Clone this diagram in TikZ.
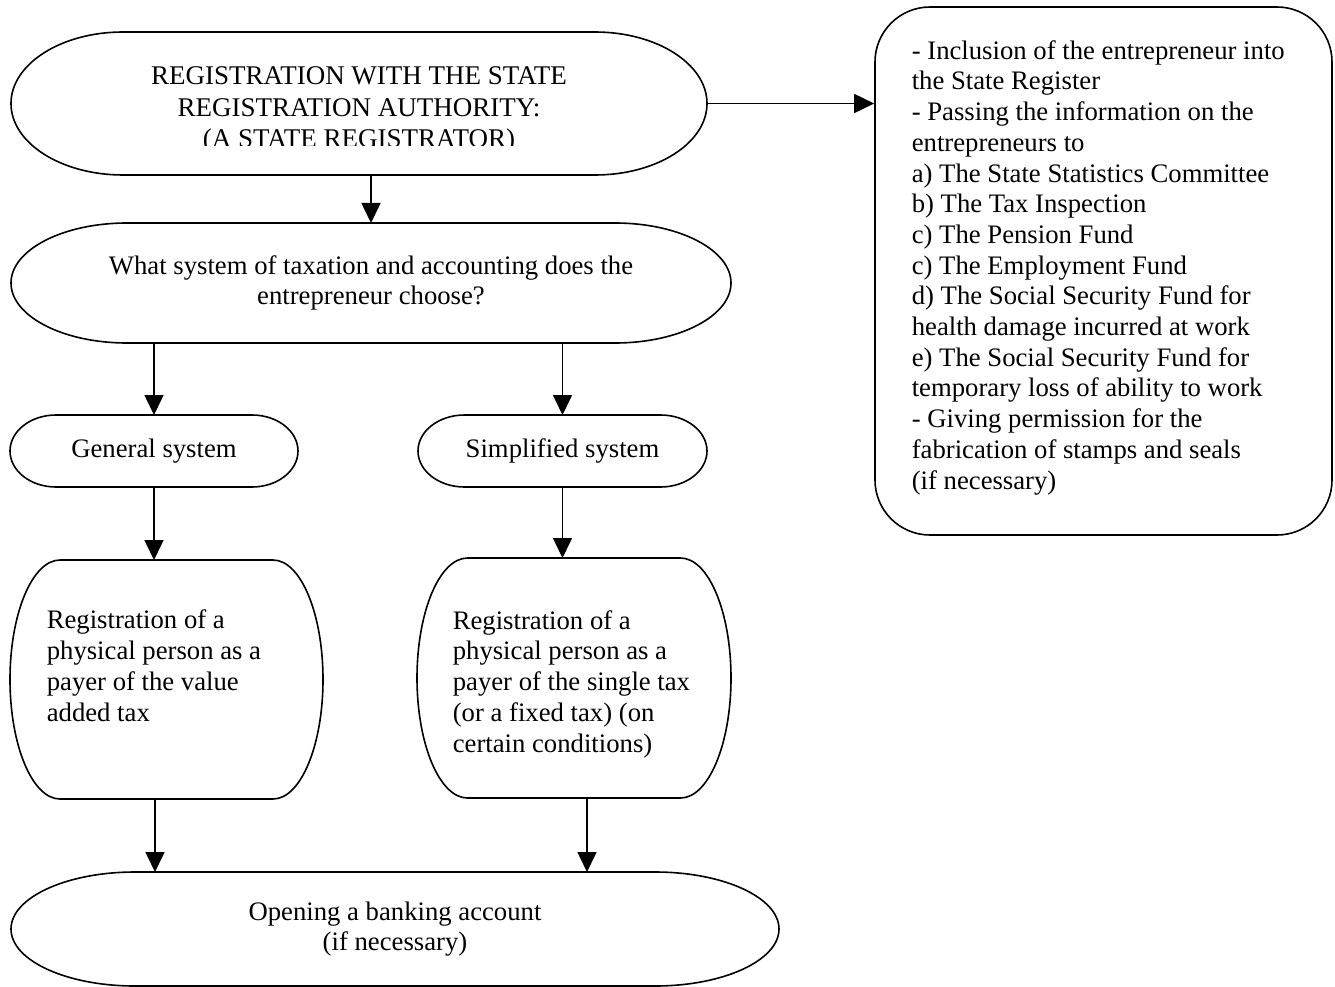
\documentclass[tikz,border=0pt]{standalone}
\usepackage{fontspec}
\setmainfont{Liberation Serif}
\usetikzlibrary{arrows.meta}

\newcommand\termshape[3]{% nodo, raggio x, raggio y
  \draw ([xshift=#2]#1.north west) -- ([xshift=-#2]#1.north east)
    arc[start angle=90, end angle=-90, x radius=#2, y radius=#3]
    -- ([xshift=#2]#1.south west)
    arc[start angle=270, end angle=90, x radius=#2, y radius=#3] -- cycle;}

\begin{document}
\begin{tikzpicture}[x=1pt, y=-1pt, line width=1.6pt,
  every node/.style={font=\fontsize{26.7pt}{30.7pt}\selectfont},
  shp/.style={rectangle, inner sep=0pt, outer sep=0pt, align=center},
  txt/.style={inner sep=0pt, align=left},
  arr/.style={-{Triangle[length=20pt,width=19pt]}}]

\useasboundingbox (0,0) rectangle (1335,987);

% Schema di registrazione dell'imprenditore
\node[shp, minimum width=696pt, minimum height=143pt] (reg)    at (359,103.5) {};
\node[shp, minimum width=720pt, minimum height=120pt] (choice) at (371,283)
  {What system of taxation and accounting does the\\entrepreneur choose?};
\node[shp, minimum width=288pt, minimum height=72pt]  (gen)    at (154,451)   {General system};
\node[shp, minimum width=289pt, minimum height=72pt]  (simp)   at (562.5,451) {Simplified system};
\node[shp, minimum width=313pt, minimum height=239pt] (vat)    at (166.5,679.5) {};
\node[shp, minimum width=314pt, minimum height=240pt] (single) at (574,678)   {};
\node[shp, minimum width=768pt, minimum height=114pt] (bank)   at (395,929)
  {Opening a banking account\\(if necessary)};
\node[draw, rounded corners=55pt, minimum width=457pt, minimum height=528pt] (info) at (1103.5,271) {};

\termshape{reg}{112pt}{71.5pt}
\termshape{choice}{116pt}{60pt}
\termshape{gen}{46pt}{36pt}
\termshape{simp}{46.5pt}{36pt}
\termshape{vat}{50pt}{119.5pt}
\termshape{single}{50.5pt}{120pt}
\termshape{bank}{124pt}{57pt}

\begin{scope}
  \clip (0,0) rectangle (1335,145.5);
  \node[txt, align=center, anchor=base, font=\fontsize{27pt}{31.5pt}\selectfont] (regtxt) at (359,148)
    {REGISTRATION WITH THE STATE\\REGISTRATION AUTHORITY:\\(A STATE REGISTRATOR)};
\end{scope}
\node[txt, anchor=base west] (vattxt) at (46,721)
  {Registration of a\\physical person as a\\payer of the value\\added tax};
\node[txt, anchor=base west] (singletxt) at (452,752)
  {Registration of a\\physical person as a\\payer of the single tax\\(or a fixed tax) (on\\certain conditions)};
\node[txt, anchor=base west] (infotxt) at (911,489)
  {- Inclusion of the entrepreneur into\\the State Register\\- Passing the information on the\\entrepreneurs to\\a) The State Statistics Committee\\b) The Tax Inspection\\c) The Pension Fund\\c) The Employment Fund\\d) The Social Security Fund for\\health damage incurred at work\\e) The Social Security Fund for\\temporary loss of ability to work\\- Giving permission for the\\fabrication of stamps and seals\\(if necessary)};

\draw[arr] (reg.east) -- (info.west |- reg.east);
\draw[arr] (choice.north |- reg.south) -- (choice.north);
\draw[arr] (gen.north |- choice.south) -- (gen.north);
\draw[arr] (simp.north |- choice.south) -- (simp.north);
\draw[arr] (gen.south) -- (gen.south |- vat.north);
\draw[arr] (simp.south) -- (simp.south |- single.north);
\draw[arr] ([xshift=-11.5pt]vat.south) -- ([xshift=-11.5pt]vat.south |- bank.north);
\draw[arr] ([xshift=13pt]single.south) -- ([xshift=13pt]single.south |- bank.north);

\end{tikzpicture}
\end{document}
